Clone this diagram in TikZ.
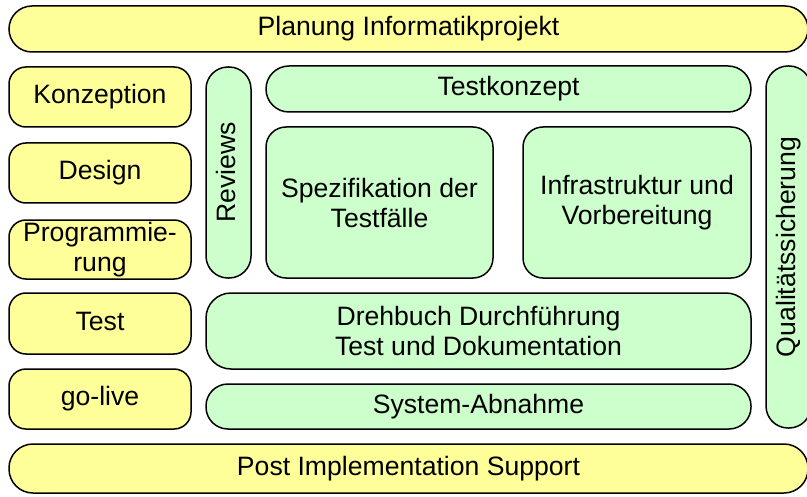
\documentclass[tikz,border=0pt]{standalone}
\usepackage{fontspec}
\setmainfont{Liberation Sans}
\usetikzlibrary{%
  positioning,%
  shapes.misc%
}
\definecolor{phasefill}{HTML}{FFFF99}
\definecolor{testfill}{HTML}{CCFFCC}

\begin{document}
\begin{tikzpicture}[
  x=0.5pt, y=-0.5pt,
  font=\fontsize{13.3}{15}\selectfont,
  line width=0.75pt,
  phase/.style={draw, fill=phasefill, align=center, inner sep=0pt},
  tst/.style={draw, fill=testfill, align=center, inner sep=0pt},
  oneline/.style={text height=0.9em, text depth=0.21em},
]

\useasboundingbox (0,0) rectangle (807,497);

% project frame
\node[phase, oneline, rounded corners=11.5pt, minimum width=399.5pt, minimum height=23pt] (plan) at (408.5,29) {Planung Informatikprojekt};
\node[phase, oneline, rounded corners=12pt, minimum width=399.5pt, minimum height=24.5pt] (post) at (408.5,468.5) {Post Implementation Support};

% phases
\node[phase, oneline, rounded corners=8.5pt, minimum width=91pt, minimum height=30pt] (konz) at (100,97) {Konzeption};
\node[phase, oneline, rounded corners=8.5pt, minimum width=91pt, minimum height=30pt] (design) at (100,173) {Design};
\node[phase, rounded corners=8.5pt, minimum width=91pt, minimum height=29.5pt] (prog) at (100,249.5) {Programmie-\\rung};
\node[phase, oneline, rounded corners=8.5pt, minimum width=91pt, minimum height=30.5pt] (test) at (100,323.5) {Test};
\node[phase, oneline, rounded corners=8.5pt, minimum width=91pt, minimum height=30pt] (golive) at (100,399) {go-live};

% testing
\node[tst, oneline, rotate=90, rounded corners=11pt, minimum width=105.5pt, minimum height=22.5pt] (reviews) at (228.5,172.5) {Reviews};
\node[tst, oneline, rounded corners=11.5pt, minimum width=242.5pt, minimum height=23pt] (tkonz) at (508.5,89) {Testkonzept};
\node[tst, rounded corners=10pt, minimum width=113.5pt, minimum height=75.5pt] (spez) at (379.5,202.5) {Spezifikation der\\Testfälle};
\node[tst, rounded corners=10pt, minimum width=114pt, minimum height=75.5pt] (infra) at (637,202.5) {Infrastruktur und\\Vorbereitung};
\node[tst, rounded corners=12.5pt, minimum width=272.5pt, minimum height=38pt] (dreh) at (478.5,331) {Drehbuch Durchführung\\Test und Dokumentation};
\node[tst, oneline, rounded corners=11pt, minimum width=272.5pt, minimum height=22.5pt] (abn) at (478.5,406.5) {System-Abnahme};
\node[tst, oneline, rotate=90, rounded corners=11pt, minimum width=181pt, minimum height=22.5pt] (qs) at (788.5,247) {Qualitätssicherung};

\end{tikzpicture}
\end{document}
